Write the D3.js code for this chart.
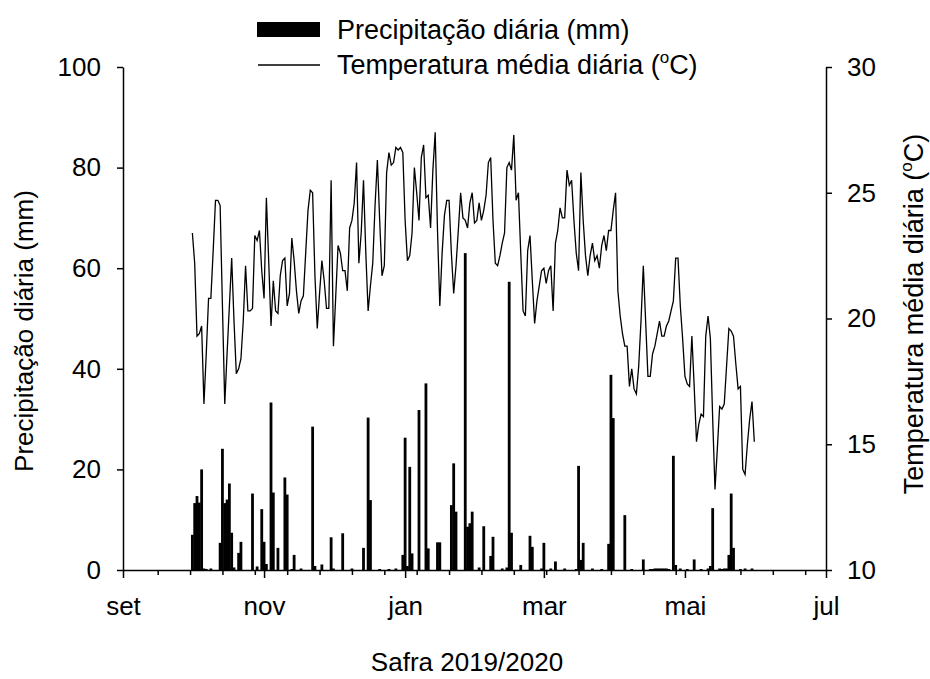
<!DOCTYPE html>
<html>
<head>
<meta charset="utf-8">
<script src="https://cdn.jsdelivr.net/npm/d3@7"></script>
<style>
  body { margin: 0; background: #fff; }
  svg text { font-family: "Liberation Sans", Arial, sans-serif; fill: #000; }
  .axis path, .axis line { stroke: #000; stroke-width: 1.5; }
</style>
</head>
<body>
<div id="chart"></div>
<script>
var svgWidth = 930;
var svgHeight = 679;

var margin = {
  top: 67,
  right: 104,
  bottom: 109,
  left: 123
};

var width = svgWidth - margin.left - margin.right;
var height = svgHeight - margin.top - margin.bottom;

// daily series, first day = 1 Oct 2019
var startDate = new Date(2019, 9, 1);

var monthLabels = ["jan", "fev", "mar", "abr", "mai", "jun", "jul", "ago", "set", "out", "nov", "dez"];
var precipTicks = [0, 20, 40, 60, 80, 100];
var tempTicks = [10, 15, 20, 25, 30];

// temperatura média diária (oC)
var tempMedia = [
  // out
  23.4, 22.2, 19.3, 19.4, 19.7, 16.6, 18.6, 20.8, 20.8, 22.7, 24.7, 24.7, 24.5, 20.5, 16.6, 18.6,
  20.5, 22.4, 19.9, 17.8, 18.0, 18.4, 19.9, 22.1, 20.3, 20.3, 20.4, 23.3, 23.1, 23.5, 21.9,
  // nov
  20.8, 24.8, 22.3, 19.7, 21.5, 20.3, 20.2, 21.7, 22.3, 22.4, 20.5, 21.0, 23.2, 22.3, 21.1,
  20.2, 20.7, 20.9, 22.6, 24.3, 25.1, 25.0, 21.7, 19.6, 21.0, 22.3, 21.5, 20.4, 20.4, 25.5,
  // dez
  18.9, 20.9, 22.9, 22.6, 21.9, 21.9, 21.1, 23.6, 23.9, 24.6, 26.2, 22.2, 23.4, 25.5, 22.6, 20.3,
  21.3, 22.2, 24.5, 26.3, 23.9, 21.7, 22.1, 25.8, 26.6, 26.1, 26.2, 26.8, 26.7, 26.8, 26.6,
  // jan
  23.9, 22.3, 22.5, 23.4, 26.0, 25.0, 23.9, 26.4, 26.9, 24.8, 24.9, 23.6, 25.9, 27.4, 23.5, 20.5,
  22.6, 24.1, 24.7, 24.7, 22.6, 21.0, 22.1, 23.5, 25.0, 24.0, 23.9, 23.6, 24.6, 25.0, 23.8,
  // fev
  23.9, 24.6, 23.9, 24.3, 24.9, 26.2, 26.4, 23.9, 22.2, 22.1, 22.5, 23.0, 23.4, 26.0, 26.2,
  25.9, 27.3, 24.7, 25.0, 22.6, 20.3, 20.1, 22.7, 23.3, 21.5, 19.8, 20.7, 21.3, 21.9,
  // mar
  22.0, 21.4, 21.9, 22.1, 20.3, 23.0, 23.5, 24.4, 24.0, 24.0, 25.9, 25.3, 25.5, 23.9, 22.6, 21.9,
  25.8, 23.9, 22.5, 21.7, 22.5, 23.0, 22.3, 22.5, 22.0, 22.9, 23.3, 22.7, 23.5, 23.5, 24.3,
  // abr
  25.0, 21.1, 20.1, 19.4, 18.9, 18.9, 17.3, 18.0, 17.2, 17.0, 18.1, 19.9, 22.1, 19.9, 17.7,
  17.7, 18.6, 18.9, 19.4, 19.9, 19.3, 19.3, 19.7, 19.9, 20.3, 20.7, 22.4, 22.4, 20.5, 19.2,
  // mai
  17.7, 17.4, 17.3, 19.3, 17.3, 15.1, 15.8, 16.2, 16.1, 19.3, 20.1, 19.2, 16.0, 13.2, 14.8, 16.5,
  16.4, 16.6, 18.1, 19.6, 19.5, 19.3, 18.2, 17.2, 17.3, 14.0, 13.8, 15.0, 16.0, 16.7, 15.1
];

// precipitação diária (mm)
var precipitacao = [
  // out
  7.0, 13.3, 14.7, 13.4, 20.0, 0.3, 0.2, 0, 0.3, 0, 0, 0, 5.4, 24.1, 13.3, 14.0,
  17.2, 7.4, 0.5, 0, 3.4, 5.6, 0, 0, 0, 0, 15.2, 0, 0.7, 0, 12.1,
  // nov
  5.6, 1.2, 0, 33.3, 15.4, 0, 4.4, 0, 0, 18.4, 15.0, 0, 0.2, 3.0, 0,
  0, 0.3, 0, 0, 0, 0, 28.5, 0.8, 0, 0, 1.1, 0, 0, 0, 6.5,
  // dez
  0.3, 0, 0, 0, 7.3, 0, 0, 0, 0.3, 0, 0, 0, 0, 4.4, 0, 30.3,
  13.9, 0, 0, 0, 0.2, 0, 0, 0, 0.2, 0, 0, 0.3, 0, 0, 3.0,
  // jan
  26.3, 0.8, 20.5, 3.3, 0, 0, 31.8, 0, 0, 37.1, 4.3, 0, 0, 0, 5.5, 5.5,
  0, 0, 0, 0, 12.9, 21.2, 11.6, 0, 0, 0, 63.0, 8.6, 9.3, 11.6, 0,
  // fev
  0, 0.5, 0, 8.7, 0, 0, 2.8, 6.6, 0, 0, 0, 0.3, 0, 0.5, 57.3,
  7.4, 0, 0, 0, 1.0, 0, 0, 0, 6.8, 4.6, 0, 0, 0, 0.3,
  // mar
  5.4, 0, 0, 0.3, 0, 1.7, 0, 0, 0, 0.3, 0, 0, 0, 0, 0.2, 20.7,
  2.0, 5.4, 0, 0, 0, 0.3, 0, 0, 0, 0.2, 0, 0, 5.2, 38.8, 30.2,
  // abr
  0, 0, 0, 0, 10.9, 0, 0, 0.2, 0, 0, 0, 0, 2.1, 0, 0,
  0.2, 0.2, 0.3, 0.3, 0.3, 0.3, 0.3, 0.3, 0.2, 0, 22.7, 1.0, 0, 0.3, 0,
  // mai
  0, 0.2, 0, 0, 2.1, 0, 0, 0.2, 0, 0, 0.3, 0.8, 12.3, 0, 0, 0.3,
  0.2, 0.3, 0.3, 3.0, 15.2, 4.4, 0, 0, 0.2, 0, 0.3, 0, 0, 0.3, 0
];

var dias = tempMedia.map(function(t, i) {
  return { date: d3.timeDay.offset(startDate, i), temp: t, precip: precipitacao[i] };
});

var svg = d3.select("#chart")
  .append("svg")
  .attr("width", svgWidth)
  .attr("height", svgHeight);

var chartGroup = svg.append("g")
  .attr("transform", `translate(${margin.left}, ${margin.top})`);

// scales
var xTimeScale = d3.scaleTime()
  .domain([new Date(2019, 8, 1), new Date(2020, 6, 1)])
  .range([0, width]);

var yPrecip = d3.scaleLinear()
  .domain([0, 100])
  .range([height, 0]);

var yTemp = d3.scaleLinear()
  .domain([10, 30])
  .range([height, 0]);

// precipitation bars
var barWidth = 2.8;
chartGroup.selectAll("rect.bar")
  .data(dias.filter(d => d.precip > 0))
  .enter()
  .append("rect")
  .attr("class", "bar")
  .attr("x", d => xTimeScale(d.date) - barWidth / 2)
  .attr("y", d => yPrecip(d.precip))
  .attr("width", barWidth)
  .attr("height", d => height - yPrecip(d.precip))
  .attr("fill", "#000");

// temperature line
var tempLine = d3.line()
  .x(d => xTimeScale(d.date))
  .y(d => yTemp(d.temp));

chartGroup.append("path")
  .datum(dias)
  .attr("d", tempLine)
  .attr("fill", "none")
  .attr("stroke", "#000")
  .attr("stroke-width", 1.3)
  .attr("stroke-linejoin", "miter");

// x axis: minor ticks every 14 days, major every 2 months
var minorTicks = d3.range(15, 304, 14).map(k => d3.timeDay.offset(new Date(2019, 8, 1), k));

chartGroup.append("g")
  .attr("class", "axis")
  .attr("transform", `translate(0, ${height})`)
  .call(d3.axisBottom(xTimeScale).tickValues(minorTicks).tickSize(5).tickFormat(""))
  .call(g => g.select(".domain").remove());

var xAxis = chartGroup.append("g")
  .attr("class", "axis")
  .attr("transform", `translate(0, ${height})`)
  .call(d3.axisBottom(xTimeScale)
    .ticks(d3.timeMonth.every(2))
    .tickSize(8)
    .tickSizeOuter(0)
    .tickFormat(d => monthLabels[d.getMonth()]));

xAxis.selectAll("text")
  .attr("y", 45)
  .attr("dy", 0)
  .style("font-size", "26px");

// left axis
chartGroup.append("g")
  .attr("class", "axis")
  .call(d3.axisLeft(yPrecip).tickValues(precipTicks).tickSize(6).tickSizeOuter(0).tickPadding(16))
  .selectAll("text")
  .style("font-size", "26px");

// right axis
chartGroup.append("g")
  .attr("class", "axis")
  .attr("transform", `translate(${width}, 0)`)
  .call(d3.axisRight(yTemp).tickValues(tempTicks).tickSize(6).tickSizeOuter(0).tickPadding(15))
  .selectAll("text")
  .style("font-size", "26px");

// axis titles
svg.append("text")
  .attr("transform", "translate(33, 331) rotate(-90)")
  .attr("text-anchor", "middle")
  .style("font-size", "26px")
  .text("Precipitação diária (mm)");

var rightTitle = svg.append("text")
  .attr("transform", "translate(923, 314) rotate(-90)")
  .attr("text-anchor", "middle")
  .style("font-size", "27px");
rightTitle.append("tspan").text("Temperatura média diária (");
rightTitle.append("tspan").attr("dy", -11).style("font-size", "17px").text("o");
rightTitle.append("tspan").attr("dy", 11).text("C)");

svg.append("text")
  .attr("x", 467)
  .attr("y", 671)
  .attr("text-anchor", "middle")
  .style("font-size", "26px")
  .text("Safra 2019/2020");

// legend
var legend = svg.append("g");

legend.append("rect")
  .attr("x", 257)
  .attr("y", 22)
  .attr("width", 63)
  .attr("height", 15)
  .attr("fill", "#000");

legend.append("text")
  .attr("x", 337)
  .attr("y", 39)
  .style("font-size", "27px")
  .text("Precipitação diária (mm)");

legend.append("line")
  .attr("x1", 258)
  .attr("x2", 320)
  .attr("y1", 65)
  .attr("y2", 65)
  .attr("stroke", "#000")
  .attr("stroke-width", 1.3);

var tempLegend = legend.append("text")
  .attr("x", 337)
  .attr("y", 74)
  .style("font-size", "27px");
tempLegend.append("tspan").text("Temperatura média diária (");
tempLegend.append("tspan").attr("dy", -11).style("font-size", "17px").text("o");
tempLegend.append("tspan").attr("dy", 11).text("C)");
</script>
</body>
</html>
